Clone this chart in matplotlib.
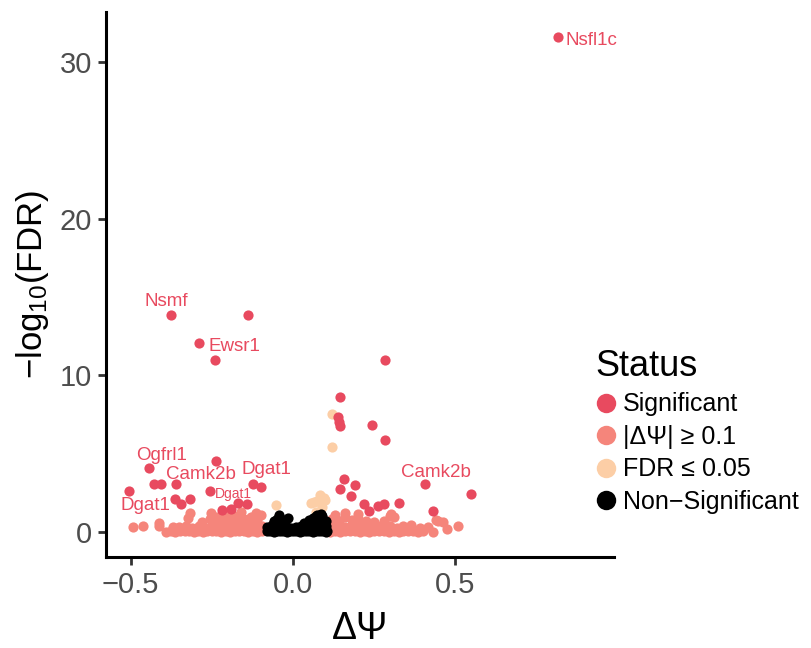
import matplotlib
matplotlib.use("Agg")
import matplotlib.pyplot as plt
from matplotlib.lines import Line2D

plt.rcParams['font.family'] = ['Liberation Sans', 'DejaVu Sans']
plt.rcParams['mathtext.fontset'] = 'custom'
plt.rcParams['mathtext.rm'] = 'Liberation Sans'
plt.rcParams['mathtext.it'] = 'Liberation Sans'

# colours per status
col_sig = '#E84A5F'
col_dpsi = '#F5857B'
col_fdr = '#FCCEA6'
col_ns = '#000000'

# |dPSI| >= 0.1 only
dpsi_x = [-0.39, -0.376, -0.362, -0.348, -0.334, -0.32, -0.306, -0.292, -0.278, -0.264, -0.25,
          -0.236, -0.222, -0.208, -0.194, -0.18, -0.166, -0.152, -0.138, -0.124, -0.11, -0.096,
          -0.37, -0.35, -0.33, -0.31, -0.29, -0.27, -0.25, -0.23, -0.21, -0.19, -0.17, -0.15,
          -0.13, -0.11, -0.095,
          -0.28, -0.255, -0.23, -0.21, -0.19, -0.17, -0.15, -0.13, -0.11, -0.10,
          -0.494, -0.463, -0.414, -0.412, -0.322, -0.317, -0.253, -0.35, -0.19, -0.16, -0.115, -0.235,
          0.115, 0.13, 0.145, 0.16, 0.175, 0.19, 0.205, 0.22, 0.235, 0.25, 0.265, 0.28, 0.295,
          0.31, 0.325, 0.34, 0.355, 0.37, 0.385, 0.40, 0.43,
          0.12, 0.14, 0.16, 0.18, 0.20, 0.22, 0.24, 0.26, 0.28, 0.30, 0.32, 0.34, 0.363, 0.39,
          0.12, 0.14, 0.16, 0.18, 0.20, 0.225, 0.25, 0.28,
          0.13, 0.16, 0.20, 0.299, 0.312, 0.302, 0.44, 0.461, 0.507, 0.473, 0.445, 0.415]
dpsi_y = [0.02, 0.05, 0.01, 0.04, 0.03, 0.06, 0.02, 0.05, 0.01, 0.04, 0.03,
          0.06, 0.02, 0.05, 0.01, 0.04, 0.03, 0.06, 0.02, 0.05, 0.01, 0.04,
          0.30, 0.22, 0.35, 0.28, 0.40, 0.25, 0.38, 0.30, 0.45, 0.33, 0.42, 0.36,
          0.48, 0.40, 0.35,
          0.65, 0.80, 0.70, 0.90, 0.75, 1.00, 0.85, 0.95, 0.75, 1.10,
          0.30, 0.38, 0.59, 0.38, 0.87, 1.23, 1.23, 0.30, 1.20, 1.25, 1.20, 0.95,
          0.02, 0.05, 0.01, 0.04, 0.03, 0.06, 0.02, 0.05, 0.01, 0.04, 0.03, 0.06, 0.02,
          0.05, 0.01, 0.04, 0.03, 0.06, 0.02, 0.04, 0.00,
          0.35, 0.50, 0.30, 0.45, 0.38, 0.30, 0.42, 0.35, 0.30, 0.40, 0.28, 0.35, 0.45, 0.25,
          0.80, 0.70, 0.95, 0.75, 0.85, 0.70, 0.65, 0.70,
          1.10, 1.20, 1.15, 1.02, 0.94, 1.15, 0.77, 0.62, 0.38, 0.17, 0.70, 0.30]

# FDR <= 0.05 only
fdr_x = [-0.052, 0.119, 0.119, 0.083, 0.066, 0.098, 0.096, 0.07, 0.055, 0.09, 0.075]
fdr_y = [1.72, 7.53, 5.40, 2.36, 1.94, 2.04, 2.15, 1.30, 1.83, 1.60, 2.00]

# non-significant
ns_x = [-0.08, -0.07, -0.06, -0.05, -0.04, -0.03, -0.02, -0.01, 0.0, 0.01,
        0.02, 0.03, 0.04, 0.05, 0.06, 0.07, 0.08, 0.09, 0.10, 0.105,
        -0.08, -0.065, -0.05, -0.035, -0.02, -0.005, 0.01, 0.025, 0.04, 0.055,
        0.07, 0.085, 0.10,
        -0.06, -0.05, -0.042, -0.03, -0.017, 0.035, 0.05, 0.06, 0.07, 0.081,
        0.09, 0.085, 0.075, 0.10]
ns_y = [0.03, 0.05, 0.02, 0.04, 0.03, 0.05, 0.02, 0.04, 0.03, 0.05,
        0.02, 0.04, 0.03, 0.05, 0.02, 0.04, 0.03, 0.05, 0.02, 0.04,
        0.30, 0.45, 0.35, 0.50, 0.30, 0.25, 0.30, 0.35, 0.40, 0.45,
        0.50, 0.40, 0.35,
        0.70, 0.85, 1.09, 0.75, 0.87, 0.60, 0.75, 0.90, 1.00, 0.80,
        1.05, 1.15, 1.10, 0.70]

# significant
sig_x = [0.817, -0.377, -0.138, -0.289, -0.24, 0.284, 0.146, 0.138, 0.142, 0.144,
         0.243, 0.284, -0.236, -0.443, -0.427, -0.407, -0.36, -0.505, -0.255, -0.122,
         -0.099, -0.362, -0.344, -0.317, -0.218, -0.19, -0.17, -0.141, 0.158, 0.143,
         0.192, 0.177, 0.218, 0.233, 0.263, 0.279, 0.325, 0.405, 0.549, 0.43]
sig_y = [31.6, 13.87, 13.87, 12.04, 10.96, 10.96, 8.6, 7.36, 7.04, 6.78,
         6.85, 5.87, 4.53, 4.08, 3.06, 3.06, 3.06, 2.6, 2.64, 3.06,
         2.89, 2.09, 1.79, 2.09, 1.4, 1.45, 1.87, 1.77, 3.36, 2.74,
         3.0, 2.32, 1.79, 1.36, 1.68, 1.79, 1.87, 3.04, 2.4, 1.34]

# gene labels
genes = ['Nsfl1c', 'Nsmf', 'Ewsr1', 'Ogfrl1', 'Camk2b', 'Dgat1', 'Dgat1', 'Dgat1', 'Camk2b']
gene_x = [0.839, -0.390, -0.182, -0.406, -0.285, -0.081, -0.184, -0.455, 0.439]
gene_y = [31.4, 14.74, 11.85, 4.91, 3.70, 4.02, 2.43, 1.66, 3.77]
gene_size = [13.5, 13.5, 13.5, 13.5, 13.5, 13.5, 10, 13.5, 13.5]

fig = plt.figure(figsize=(8.11, 6.48), dpi=100)
ax = fig.add_axes([0.1307, 0.1404, 0.757 - 0.1307, 0.9815 - 0.1404])

ms = 54
ax.scatter(dpsi_x, dpsi_y, s=ms, color=col_dpsi, linewidths=0, zorder=2)
ax.scatter(fdr_x, fdr_y, s=ms, color=col_fdr, linewidths=0, zorder=3)
ax.scatter(ns_x, ns_y, s=ms, color=col_ns, linewidths=0, zorder=4)
ax.scatter(sig_x, sig_y, s=ms, color=col_sig, linewidths=0, zorder=5)

for g, gx, gy, fs in zip(genes, gene_x, gene_y, gene_size):
    ha = 'left' if g == 'Nsfl1c' else 'center'
    ax.text(gx, gy, g, color=col_sig, fontsize=fs, ha=ha, va='center', zorder=6)

ax.set_xlim(-0.576, 0.988)
ax.set_ylim(-1.6, 33.2)
ax.set_xticks([-0.5, 0.0, 0.5])
ax.set_xticklabels(['\u22120.5', '0.0', '0.5'])
ax.set_yticks([0, 10, 20, 30])
for s in ['top', 'right']:
    ax.spines[s].set_visible(False)
for s in ['left', 'bottom']:
    ax.spines[s].set_linewidth(2.2)
ax.tick_params(length=6, width=2, color='#333333', labelcolor='#4D4D4D', labelsize=21, pad=4)

ax.set_xlabel('\u0394\u03a8', fontsize=27, labelpad=9)
ax.set_ylabel('\u2212log$_{10}$(FDR)', fontsize=25, labelpad=6)

handles = [Line2D([], [], marker='o', linestyle='', markersize=14, markeredgewidth=0, color=c)
           for c in [col_sig, col_dpsi, col_fdr, col_ns]]
labels = ['Significant', '|\u0394\u03a8| \u2265 0.1', 'FDR \u2264 0.05', 'Non\u2212Significant']
leg = fig.legend(handles, labels, title='Status', loc='upper left',
                 bbox_to_anchor=(0.722, 0.477), frameon=False, fontsize=18,
                 title_fontsize=26, handlelength=0.8, handletextpad=0.3,
                 labelspacing=0.34, borderaxespad=0)
leg._legend_box.align = 'left'

fig.savefig('out.png', dpi=100)
